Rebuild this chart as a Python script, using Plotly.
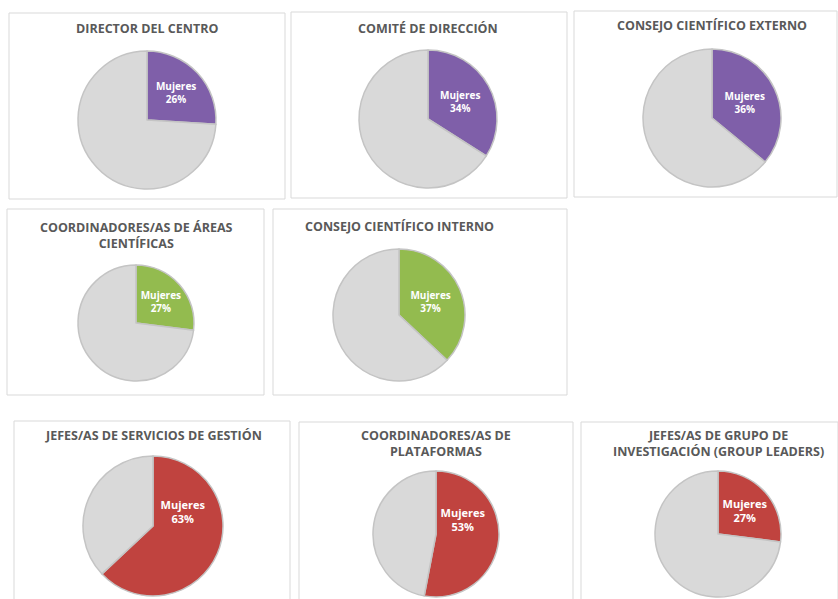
import plotly.graph_objects as go

W, H = 838, 599

titles = [
    "DIRECTOR DEL CENTRO",
    "COMITÉ DE DIRECCIÓN",
    "CONSEJO CIENTÍFICO EXTERNO",
    "COORDINADORES/AS DE ÁREAS<br>CIENTÍFICAS",
    "CONSEJO CIENTÍFICO INTERNO",
    "JEFES/AS DE SERVICIOS DE GESTIÓN",
    "COORDINADORES/AS DE<br>PLATAFORMAS",
    "JEFES/AS DE GRUPO DE<br>INVESTIGACIÓN (GROUP LEADERS)",
]
mujeres_pct = [26, 34, 36, 27, 37, 63, 53, 27]
hombres_pct = [74, 66, 64, 73, 63, 37, 47, 73]
slice_labels = ["Mujeres", "Hombres"]

PURPLE = "#7F5FA9"
GREEN = "#93BB4F"
RED = "#C0433F"
GREY = "#D9D9D9"
panel_colors = [PURPLE, PURPLE, PURPLE, GREEN, GREEN, RED, RED, RED]

# layout in pixels: panel box (x0, y0, x1, y1), pie centre (cx, cy, r), title y
boxes = [
    (9, 13, 285, 199), (291, 12, 567, 198), (574, 11, 837, 197),
    (7, 209, 264, 395), (273, 209, 567, 395),
    (14, 421, 290, 600), (299, 422, 573, 600), (581, 422, 838, 600),
]
pies = [
    (147, 120, 69), (428, 119, 69), (712, 118, 69),
    (136, 323, 58), (399, 315, 66),
    (153, 526, 70), (436, 534, 63), (718, 534, 63),
]
title_y = [28, 28, 25, 235, 226, 435, 443, 443]
text_sizes = [10, 10, 10, 10, 10, 11, 11, 11]
# blank lines under the slice label lift it towards the top, as in the original
label_pad = [0, 0, 0, 0, 0, 2, 2, 0]


def px_x(v):
    return v / W


def px_y(v):
    return 1 - v / H


fig = go.Figure()
shapes = []
annotations = []
for i, title in enumerate(titles):
    cx, cy, r = pies[i]
    pad = "<br> " * label_pad[i]
    fig.add_trace(go.Pie(
        labels=slice_labels,
        values=[mujeres_pct[i], hombres_pct[i]],
        sort=False,
        direction="clockwise",
        rotation=0,
        domain=dict(x=[px_x(cx - r), px_x(cx + r)],
                    y=[max(0, px_y(cy + r)), px_y(cy - r)]),
        marker=dict(colors=[panel_colors[i], GREY],
                    line=dict(color="#C4C4C4", width=1.5)),
        texttemplate=["<b>%{label}<br>%{percent:.0%}</b>" + pad, ""],
        textposition="inside",
        insidetextorientation="horizontal",
        insidetextfont=dict(family="Open Sans", size=text_sizes[i], color="white"),
        hoverinfo="label+percent",
        showlegend=False,
    ))
    x0, y0, x1, y1 = boxes[i]
    shapes.append(dict(type="rect", xref="paper", yref="paper",
                       x0=px_x(x0), x1=px_x(x1), y0=px_y(y1), y1=px_y(y0),
                       line=dict(color="#D9D9D9", width=1)))
    annotations.append(dict(text=f"<b>{title}</b>", xref="paper", yref="paper",
                            x=px_x(cx), y=px_y(title_y[i]), showarrow=False,
                            xanchor="center", yanchor="middle",
                            font=dict(family="Open Sans", size=12.5, color="#595959")))

fig.update_layout(
    width=W, height=H,
    margin=dict(l=0, r=0, t=0, b=0),
    paper_bgcolor="white",
    plot_bgcolor="white",
    shapes=shapes,
    annotations=annotations,
)
fig.write_html("out.html", config={"displayModeBar": False},
               post_script="document.body.style.margin='0';")
